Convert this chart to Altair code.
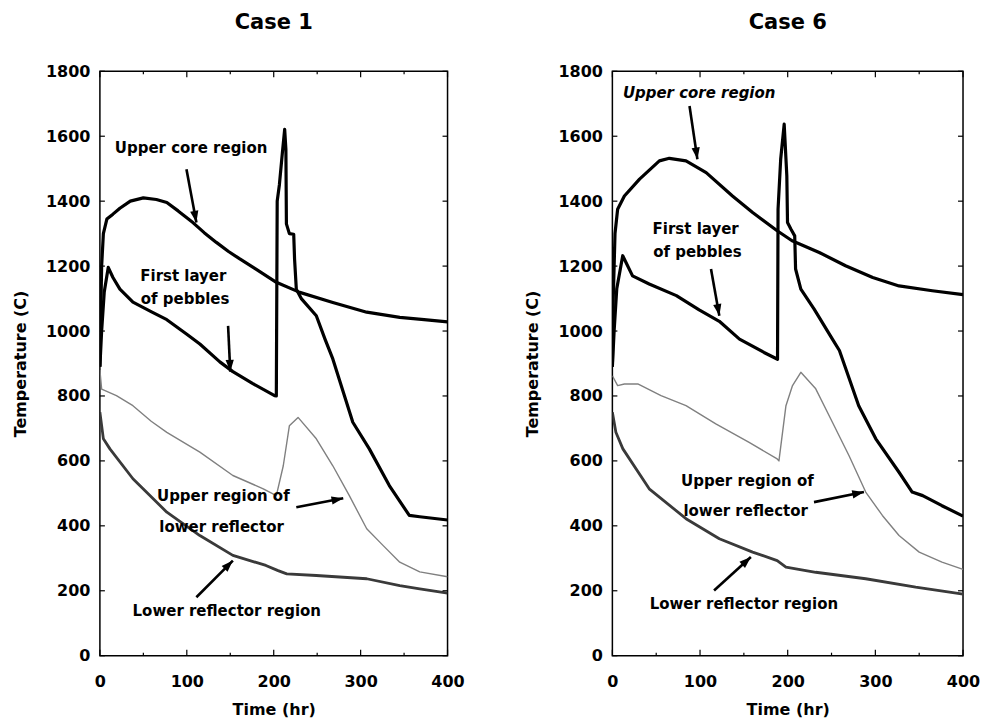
import math
import altair as alt
import pandas as pd

# ---------------- Case 1 ----------------
c1_core_t = [0, 1, 2, 4, 8, 15, 23, 35, 50, 65, 77, 90, 107, 120, 134, 148, 161, 180, 203, 230, 268, 307, 345, 370, 400]
c1_core_T = [890, 1050, 1200, 1300, 1345, 1360, 1378, 1400, 1410, 1405, 1396, 1370, 1334, 1303, 1273, 1245, 1222, 1190, 1150, 1119, 1088, 1058, 1042, 1036, 1028]

c1_peb_t = [0, 2, 5, 9.6, 15, 23, 38, 60, 77, 100, 115, 138, 153, 176, 201, 203, 204, 206.5, 210, 212.6, 214, 214.6, 218, 223, 224, 226, 232, 249, 259, 268, 291, 310, 333, 356, 368, 400]
c1_peb_T = [890, 1000, 1120, 1196, 1165, 1129, 1089, 1058, 1035, 990, 960, 905, 875, 838, 801, 800, 1400, 1450, 1550, 1621, 1560, 1330, 1300, 1298, 1221, 1129, 1099, 1047, 975, 914, 719, 637, 524, 432, 428, 418]

c1_upr_t = [0, 2, 19, 38, 59, 77, 115, 153, 188, 203, 211, 218, 228, 249, 268, 287, 307, 326, 345, 368, 400]
c1_upr_T = [880, 821, 801, 770, 722, 688, 627, 555, 514, 493, 585, 708, 734, 668, 585, 493, 391, 339, 288, 258, 243]

c1_lwr_t = [0, 4, 11.5, 38, 77, 115, 153, 191, 205, 215, 249, 307, 345, 368, 400]
c1_lwr_T = [750, 668, 637, 545, 442, 370, 309, 278, 262, 252, 247, 237, 216, 206, 193]

# ---------------- Case 6 ----------------
c6_core_t = [0, 1, 3, 6, 13.7, 31, 53.6, 65, 84, 107, 137, 160, 188, 205, 236, 266, 297, 327, 365, 400]
c6_core_T = [890, 1100, 1300, 1375, 1416, 1468, 1524, 1532, 1524, 1488, 1416, 1365, 1309, 1278, 1242, 1201, 1165, 1139, 1124, 1112]

c6_peb_t = [0, 2, 5, 11.8, 23, 42, 73, 99, 122, 145, 173, 188.4, 189, 192, 196, 199, 199.8, 203.6, 208, 209, 215, 230, 251, 259, 281, 300.5, 327, 342, 354, 376, 400]
c6_peb_T = [890, 1000, 1130, 1232, 1170, 1145, 1109, 1065, 1030, 975, 934, 913, 1375, 1529, 1637, 1478, 1334, 1314, 1293, 1191, 1129, 1068, 975, 940, 770, 668, 565, 504, 493, 462, 430]

c6_upr_t = [0, 6, 13.7, 29, 55.5, 84, 118, 156, 188, 190, 198, 205.5, 215, 232, 251, 270, 289, 308, 327, 350, 376, 400]
c6_upr_T = [862, 832, 837, 837, 801, 770, 714, 657, 606, 600, 770, 832, 873, 822, 719, 616, 504, 432, 370, 319, 288, 266]

c6_lwr_t = [0, 4, 12, 42, 84, 122, 160, 188, 198, 232, 289, 346, 400]
c6_lwr_T = [750, 688, 637, 514, 422, 360, 319, 293, 273, 257, 237, 211, 190]

# ---------------- Annotations (data units) ----------------
c1_text_t = [105, 96, 98, 142, 140, 146]
c1_text_T = [1565, 1170, 1098, 493, 396, 139]
c1_text_s = ["Upper core region", "First layer", "of pebbles", "Upper region of", "lower reflector", "Lower reflector region"]
c1_text_it = [False, False, False, False, False, False]
c1_arrow_t1 = [99.6, 147.5, 226, 111]
c1_arrow_T1 = [1498, 1016, 457, 180]
c1_arrow_t2 = [111, 150, 280, 153]
c1_arrow_T2 = [1334, 875, 485, 293]

c6_text_t = [99, 95, 97, 154, 152, 150]
c6_text_T = [1734, 1314, 1244, 539, 447, 160]
c6_text_s = ["Upper core region", "First layer", "of pebbles", "Upper region of", "lower reflector", "Lower reflector region"]
c6_text_it = [True, False, False, False, False, False]
c6_arrow_t1 = [88, 112.5, 230, 116]
c6_arrow_T1 = [1693, 1191, 473, 201]
c6_arrow_t2 = [97, 122, 287, 158]
c6_arrow_T2 = [1529, 1047, 504, 304]

x_ticks_major = [0, 100, 200, 300, 400]
x_ticks_minor = [50, 150, 250, 350]
y_ticks = [0, 200, 400, 600, 800, 1000, 1200, 1400, 1600, 1800]

H = 585
W1, W2 = 348, 351
FONT = "DejaVu Sans"

styles = {
    "core": ("#000000", 3.2),
    "pebble": ("#000000", 3.2),
    "upref": ("#808080", 1.4),
    "lowref": ("#3a3a3a", 2.8),
}

XS = alt.Scale(domain=[0, 400], nice=False, zero=False)
YS = alt.Scale(domain=[0, 1800], nice=False, zero=False)

XAX = alt.Axis(values=x_ticks_major, title="Time (hr)", format="d", labelFlush=False, labelOverlap=False,
               ticks=False, tickSize=0, domain=False, grid=False, labelPadding=18, titlePadding=12)
YAX = alt.Axis(values=y_ticks, title="Temperature (C)", format="d", labelFlush=False, labelOverlap=False,
               ticks=False, tickSize=0, domain=False, grid=False, labelPadding=10, titlePadding=17)


def X(f):
    return alt.X(f, scale=XS, axis=XAX, title="Time (hr)")


def Y(f):
    return alt.Y(f, scale=YS, axis=YAX, title="Temperature (C)")


ARROW = "M0,0L-0.6,1.7L0.6,1.7Z"


def panel(title, series, texts, arrows, W):
    layers = []
    for name, (t, T) in series.items():
        color, sw = styles[name]
        df = pd.DataFrame({"t": t, "T": T, "i": list(range(len(t)))})
        layers.append(
            alt.Chart(df).mark_line(color=color, strokeWidth=sw, strokeJoin="round", clip=True).encode(
                x=X("t:Q"), y=Y("T:Q"), order=alt.Order("i:Q"),
            )
        )

    # inner ticks
    def xt(vals, ln):
        d = pd.DataFrame({"t": vals})
        b = alt.Chart(d).mark_rule(color="black", strokeWidth=1.2).encode(
            x=X("t:Q"), y=alt.value(H), y2=alt.value(H - ln))
        tp = alt.Chart(d).mark_rule(color="black", strokeWidth=1.2).encode(
            x=X("t:Q"), y=alt.value(0), y2=alt.value(ln))
        return [b, tp]

    layers += xt(x_ticks_major, 6) + xt(x_ticks_minor, 3)
    dy = pd.DataFrame({"T": y_ticks})
    layers.append(alt.Chart(dy).mark_rule(color="black", strokeWidth=1.2).encode(
        y=Y("T:Q"), x=alt.value(0), x2=alt.value(5)))
    layers.append(alt.Chart(dy).mark_rule(color="black", strokeWidth=1.2).encode(
        y=Y("T:Q"), x=alt.value(W), x2=alt.value(W - 5)))

    # arrows
    t1, T1, t2, T2 = arrows
    ang = []
    for a, b, c, d in zip(t1, T1, t2, T2):
        dxp = (c - a) * W / 400.0
        dyp = (d - b) * H / 1800.0
        ang.append(math.degrees(math.atan2(dxp, dyp)) % 360)
    da = pd.DataFrame({"t": t1, "T": T1, "t2": t2, "T2": T2, "ang": ang})
    layers.append(alt.Chart(da).mark_rule(color="black", strokeWidth=2.6).encode(
        x=X("t:Q"), y=Y("T:Q"), x2="t2:Q", y2="T2:Q"))
    layers.append(alt.Chart(da).mark_point(shape=ARROW, filled=True, size=190, color="black", opacity=1).encode(
        x=X("t2:Q"), y=Y("T2:Q"), angle=alt.Angle("ang:Q", scale=None)))

    # texts
    tt, tT, ts, ti = texts
    dt = pd.DataFrame({"t": tt, "T": tT, "s": ts, "it": ti})
    for italic in (False, True):
        sub = dt[dt["it"] == italic]
        if len(sub) == 0:
            continue
        kw = dict(font=FONT, fontSize=15, fontWeight="bold", align="center", baseline="middle", color="black")
        if italic:
            kw["fontStyle"] = "italic"
        layers.append(alt.Chart(sub).mark_text(**kw).encode(x=X("t:Q"), y=Y("T:Q"), text="s:N"))

    return alt.layer(*layers).properties(
        width=W, height=H,
        title=alt.TitleParams(title, frame="group", anchor="middle", font=FONT, fontSize=21,
                              fontWeight="bold", color="black", offset=30),
    )


p1 = panel("Case 1",
           {"core": (c1_core_t, c1_core_T), "pebble": (c1_peb_t, c1_peb_T),
            "upref": (c1_upr_t, c1_upr_T), "lowref": (c1_lwr_t, c1_lwr_T)},
           (c1_text_t, c1_text_T, c1_text_s, c1_text_it),
           (c1_arrow_t1, c1_arrow_T1, c1_arrow_t2, c1_arrow_T2), W1)
p6 = panel("Case 6",
           {"core": (c6_core_t, c6_core_T), "pebble": (c6_peb_t, c6_peb_T),
            "upref": (c6_upr_t, c6_upr_T), "lowref": (c6_lwr_t, c6_lwr_T)},
           (c6_text_t, c6_text_T, c6_text_s, c6_text_it),
           (c6_arrow_t1, c6_arrow_T1, c6_arrow_t2, c6_arrow_T2), W2)

chart = alt.hconcat(p1, p6, spacing=58).properties(
    padding={"left": 11, "top": 11, "right": 0, "bottom": 0},
    background="white",
).configure_view(stroke="black", strokeWidth=1.5).configure_axis(
    labelFont=FONT, labelFontSize=16, labelFontWeight="bold", labelColor="black",
    titleFont=FONT, titleFontSize=16, titleFontWeight="bold", titleColor="black",
)

chart.save("out.html", embed_options={"renderer": "svg", "actions": False})
